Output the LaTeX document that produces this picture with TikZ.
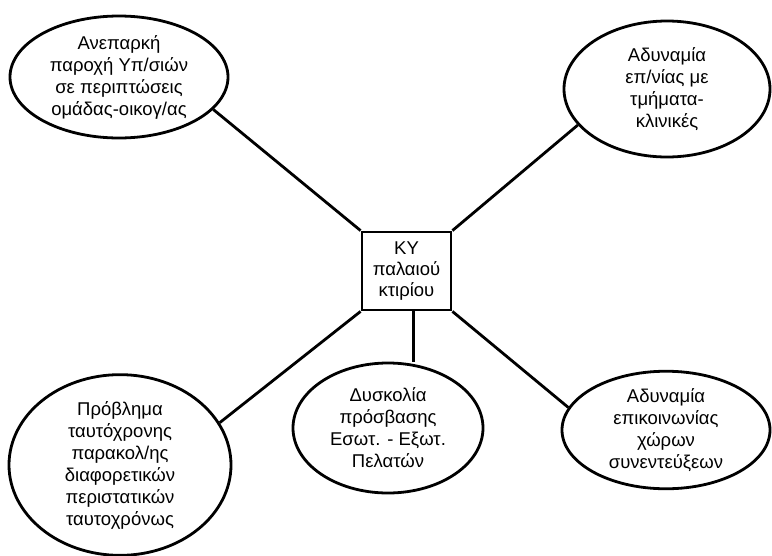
\documentclass[tikz,border=0pt]{standalone}
\usepackage{fontspec}
\setmainfont{Liberation Sans}
\usetikzlibrary{shapes.geometric}
\begin{document}
\begin{tikzpicture}[x=1pt,y=-1pt,
  bubble/.style={draw,line width=2.8pt,ellipse,inner sep=0pt,align=center,
    font=\fontsize{18.5}{22}\selectfont},
  hub/.style={draw,line width=2.8pt,rectangle,inner sep=0pt,align=center,
    minimum width=89pt,minimum height=78pt,font=\fontsize{18.5}{21}\selectfont},
  link/.style={line width=2.8pt}]
\useasboundingbox (0,0) rectangle (772,555);

% central box
\node[hub] (hub) at (406.5,271) {ΚΥ\\παλαιού\\κτιρίου};

% surrounding bubbles
\node[bubble,minimum width=218pt,minimum height=122pt] (tl) at (119,77)
  {Ανεπαρκή\\παροχή Υπ/σιών\\σε περιπτώσεις\\ομάδας-οικογ/ας};
\node[bubble,minimum width=206pt,minimum height=136pt] (tr) at (667,89)
  {Αδυναμία\\επ/νίας με\\τμήματα-\\κλινικές};
\node[bubble,minimum width=222pt,minimum height=170pt] (bl) at (120,465)
  {Πρόβλημα\\ταυτόχρονης\\παρακολ/ης\\διαφορετικών\\περιστατικών\\ταυτοχρόνως};
\node[bubble,minimum width=190pt,minimum height=130pt] (bm) at (388,428)
  {Δυσκολία\\πρόσβασης\\Εσωτ. - Εξωτ.\\Πελατών};
\node[bubble,minimum width=208pt,minimum height=116pt] (br) at (666,430)
  {Αδυναμία\\επικοινωνίας\\χώρων\\συνεντεύξεων};

% connectors from the box corners
\draw[link] (hub.north west) -- (tl.-19);
\draw[link] (hub.north east) -- (tr.202);
\draw[link] (hub.south west) -- (bl.23);
\draw[link] (hub.south east) -- (br.167);
\draw[link] ([xshift=7pt]hub.south) -- ([xshift=7pt]hub.south |- bm.north);
\end{tikzpicture}
\end{document}
